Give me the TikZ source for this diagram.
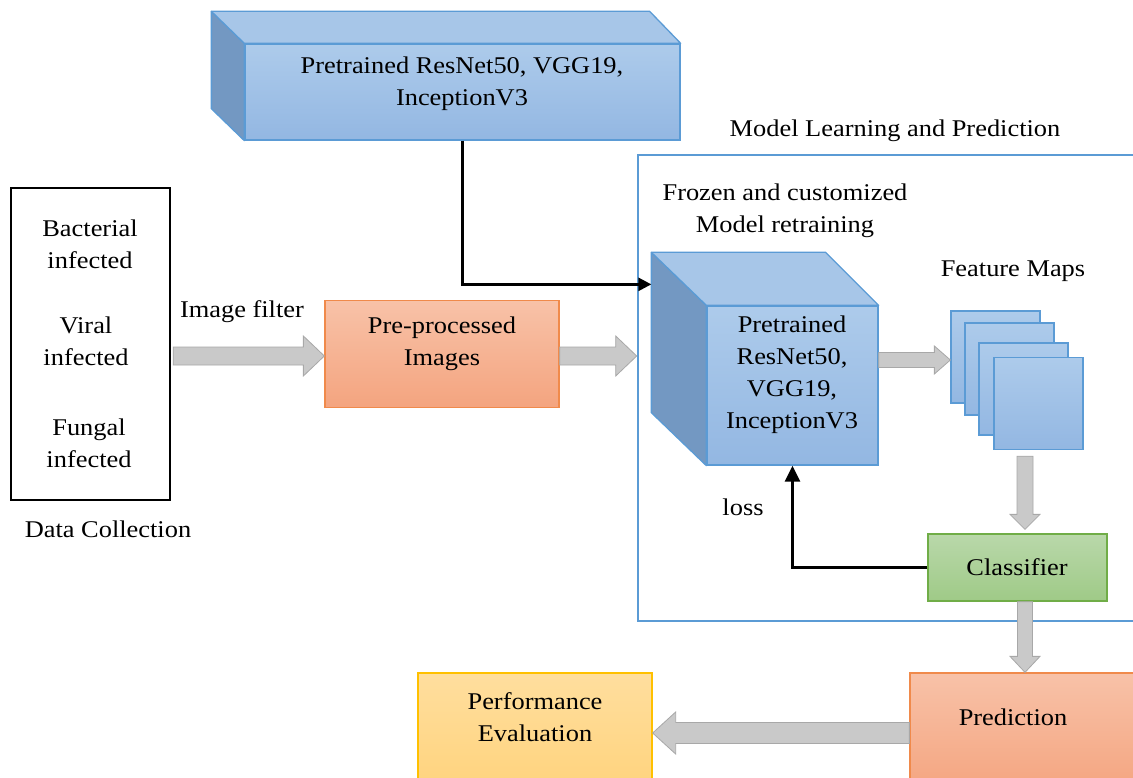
\documentclass[tikz,border=0pt]{standalone}
\usepackage{fontspec}
\setmainfont{Liberation Serif}[FakeStretch=1.1]
\usetikzlibrary{calc,arrows.meta}
\definecolor{bluetop}{HTML}{ADCBEB}
\definecolor{bluebot}{HTML}{93B7E2}
\definecolor{blueedge}{HTML}{5B9BD5}
\definecolor{blueside}{HTML}{7398C2}
\definecolor{bluelid}{HTML}{A7C6E8}
\definecolor{orgtop}{HTML}{F8C2A8}
\definecolor{orgbot}{HTML}{F4A47F}
\definecolor{orgedge}{HTML}{F08A4B}
\definecolor{grntop}{HTML}{B9D8AA}
\definecolor{grnbot}{HTML}{9FCA87}
\definecolor{grnedge}{HTML}{70AD47}
\definecolor{ylwtop}{HTML}{FFDE9E}
\definecolor{ylwbot}{HTML}{FFD37C}
\definecolor{ylwedge}{HTML}{FFC000}
\definecolor{fatfill}{HTML}{C9C9C9}
\definecolor{fatedge}{HTML}{A8A8A8}
\newcommand\fatarrow[5]{%
  \coordinate (fap) at ($(#2)!#5!(#1)$);
  \draw[fat] ($(#1)!#3!90:(#2)$) -- ($(fap)!#3!-90:(#1)$) -- ($(fap)!#4!-90:(#1)$)
    -- (#2) -- ($(fap)!#4!90:(#1)$) -- ($(fap)!#3!90:(#1)$) -- ($(#1)!#3!-90:(#2)$) -- cycle;
}
\begin{document}
\begin{tikzpicture}[x=1pt,y=-1pt,
  txt/.style={font=\fontsize{24}{32}\selectfont, align=center, inner sep=0pt},
  bluebox/.style={draw=blueedge, line width=1.3pt, shading=axis, top color=bluetop, bottom color=bluebot, inner sep=0pt},
  bluesideface/.style={draw=blueedge, line width=1.3pt, fill=blueside, line join=round},
  bluelidface/.style={draw=blueedge, line width=1.3pt, fill=bluelid, line join=round},
  orgbox/.style={draw=orgedge, line width=1.3pt, shading=axis, top color=orgtop, bottom color=orgbot, inner sep=0pt},
  grnbox/.style={draw=grnedge, line width=1.3pt, shading=axis, top color=grntop, bottom color=grnbot, inner sep=0pt},
  ylwbox/.style={draw=ylwedge, line width=1.3pt, shading=axis, top color=ylwtop, bottom color=ylwbot, inner sep=0pt},
  fmap/.style={bluebox, minimum width=89pt, minimum height=92pt},
  fat/.style={draw=fatedge, line width=0.8pt, fill=fatfill, line join=miter},
  blk/.style={draw=black, line width=2.6pt},
]
\path[use as bounding box, clip] (0,0) rectangle (1133,778);
\fill[white] (0,0) rectangle (1133,778);

% frame
\node[draw=blueedge, line width=2.6pt, minimum width=507pt, minimum height=466pt, inner sep=0pt] (frame) at (891.5,388) {};
\node[txt] (framelbl) at (895,131) {Model Learning and Prediction};
\node[txt] (frozen) at (785,210.5) {Frozen and customized\\Model retraining};

% data collection
\node[draw=black, line width=2.4pt, minimum width=159pt, minimum height=312pt, inner sep=0pt] (dc) at (90.5,344) {};
\node[txt] (bact) at (90,244.5) {Bacterial\\infected};
\node[txt] (viral) at (86,341) {Viral\\infected};
\node[txt] (fung) at (89,443.5) {Fungal\\infected};
\node[txt] (dclbl) at (108,529) {Data Collection};

% top cube
\node[bluebox, minimum width=435pt, minimum height=96pt] (top) at (462.5,92) {};
\draw[bluesideface] (top.north west) -- ++(-33,-32) -- ($(top.south west)+(-33,-32)$) -- (top.south west) -- cycle;
\draw[bluelidface] (top.north west) -- ++(-33,-32) -- ($(top.north east)+(-31,-32)$) -- (top.north east) -- cycle;
\node[txt] (toptxt) at (462,84) {Pretrained ResNet50, VGG19,\\InceptionV3};

% middle cube
\node[bluebox, minimum width=171pt, minimum height=159pt] (mid) at (792.5,385.5) {};
\draw[bluesideface] (mid.north west) -- ++(-55,-53) -- ($(mid.south west)+(-55,-53)$) -- (mid.south west) -- cycle;
\draw[bluelidface] (mid.north west) -- ++(-55,-53) -- ($(mid.north east)+(-53,-53)$) -- (mid.north east) -- cycle;
\node[txt] (midtxt) at (792,375) {Pretrained\\ResNet50,\\VGG19,\\InceptionV3};
\coordinate (midback) at ($(mid.north west)+(-55,-21)$);

% pre-processed
\node[orgbox, minimum width=234pt, minimum height=107pt] (pre) at (442,354) {};
\node[txt] (pretxt) at (442,343.5) {Pre-processed\\Images};
\node[txt] (filter) at (242,312) {Image filter};

% feature maps
\node[txt] (fmlbl) at (1013,271) {Feature Maps};
\node[fmap] (fm1) at (995.5,357) {};
\node[fmap] (fm2) at (1009.5,369) {};
\node[fmap] (fm3) at (1023.5,389) {};
\node[fmap] (fm4) at (1038.5,403.5) {};

% classifier
\node[grnbox, minimum width=179pt, minimum height=67pt] (cls) at (1017.5,567.5) {};
\node[txt] (clstxt) at (1017,567) {Classifier};
\node[txt] (loss) at (743,507) {loss};

% prediction and evaluation
\node[orgbox, minimum width=230pt, minimum height=120pt] (pred) at (1025,733) {};
\node[txt] (predtxt) at (1013,717) {Prediction};
\node[ylwbox, minimum width=234pt, minimum height=120pt] (perf) at (535,733) {};
\node[txt] (perftxt) at (535,717.5) {Performance\\Evaluation};

% gray arrows
\coordinate (a1s) at ($(dc.east |- pre.west)+(2,2)$);
\coordinate (a1e) at ($(pre.west)+(0,2)$);
\fatarrow{a1s}{a1e}{9pt}{20pt}{21pt}
\coordinate (a2s) at ($(pre.east)+(0,2)$);
\coordinate (a2e) at ($(frame.west |- pre.east)+(0,2)$);
\fatarrow{a2s}{a2e}{9pt}{20pt}{21pt}
\coordinate (a3s) at ($(mid.east |- fm1.west)+(0,3)$);
\coordinate (a3e) at ($(fm1.west)+(0,3)$);
\fatarrow{a3s}{a3e}{7.5pt}{14pt}{16pt}
\coordinate (a4s) at ($(fm4.south -| pred.north)+(0,6)$);
\coordinate (a4e) at ($(cls.north -| pred.north)+(0,-4)$);
\fatarrow{a4s}{a4e}{8pt}{15pt}{15pt}
\coordinate (a5s) at (cls.south -| pred.north);
\fatarrow{a5s}{pred.north}{7.5pt}{15pt}{16pt}
\fatarrow{pred.west}{perf.east}{10.5pt}{21pt}{23pt}

% black arrows
\draw[blk, -{Triangle[length=13pt,width=13pt]}] (top.south) |- (midback);
\draw[blk, -{Triangle[length=16pt,width=15pt]}] (cls.west) -| (mid.south);
\end{tikzpicture}
\end{document}
